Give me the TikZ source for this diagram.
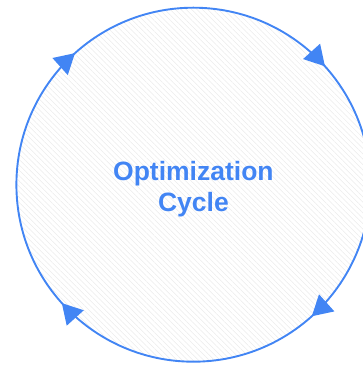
\documentclass[tikz,border=0pt]{standalone}
\usepackage{fontspec}
\setmainfont{Liberation Sans}
\usetikzlibrary{patterns.meta}
\definecolor{cycblue}{HTML}{4285F4}
\tikzset{
  cycle circle/.style={circle, draw=cycblue, line width=1.9pt, fill=white,
    pattern={Lines[angle=-45, distance=3.8pt, line width=0.5pt]}, pattern color=black!8,
    minimum size=354pt, inner sep=0pt},
  cycle label/.style={text=cycblue, align=center, inner sep=0pt,
    font=\fontsize{26.5}{31}\selectfont\bfseries},
  cycle head/.style={fill=cycblue, draw=none}
}
\begin{document}
\begin{tikzpicture}[x=1pt,y=1pt]
  \useasboundingbox (0,0) rectangle (363,366);
  \begin{scope}
    \clip (0,0) rectangle (363,366);
    \node[cycle circle] (cyc) at (193.4,181.3) {};
    \node[cycle label, yshift=-4pt] (lbl) at (cyc.center) {Optimization\\Cycle};
    \foreach \a in {132,42,-48,-138}{
      \begin{scope}[shift={(cyc.center)}, rotate=\a]
        \fill[cycle head] (177,0) -- (165.5,20) -- (188.5,20) -- cycle;
      \end{scope}
    }
  \end{scope}
\end{tikzpicture}
\end{document}
